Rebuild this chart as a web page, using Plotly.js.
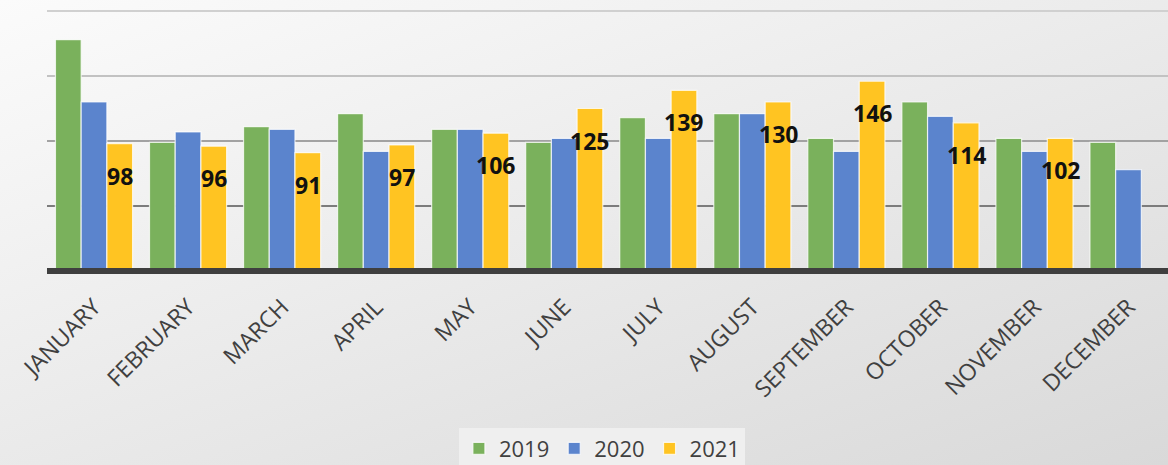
<!DOCTYPE html>
<html>
<head>
<meta charset="utf-8">
<script src="https://cdn.plot.ly/plotly-3.0.1.min.js"></script>
<style>
  html, body { margin: 0; padding: 0; }
  body {
    width: 1168px; height: 465px; overflow: hidden;
    background: linear-gradient(160deg, #fbfbfb 0%, #ececec 45%, #d9d9d9 100%);
  }
  #chart { width: 1168px; height: 465px; }
</style>
</head>
<body>
<div id="chart"></div>
<script>
// ---- data ----
const months = ["JANUARY", "FEBRUARY", "MARCH", "APRIL", "MAY", "JUNE",
                "JULY", "AUGUST", "SEPTEMBER", "OCTOBER", "NOVEMBER", "DECEMBER"];
const values2019 = [178, 99, 111, 121, 109, 99, 118, 121, 102, 130, 102, 99];
const values2020 = [130, 107, 109, 92, 109, 102, 102, 121, 92, 119, 92, 78];
const values2021 = [98, 96, 91, 97, 106, 125, 139, 130, 146, 114, 102, null];
const seriesNames = ["2019", "2020", "2021"];
const gridValues = [50, 100, 150, 200];

// ---- layout constants ----
const W = 1168, H = 465;
const mL = 47, mR = 0, mT = 0, mB = 190;
const xRange = [-0.5, 11.42];
const yRange = [-3.1, 208.5];
const bargap = 0.18;

const colors = ["#7ab15c", "#5b84cd", "#ffc422"];
const gridColors = ["#7c7c7c", "#a2a2a2", "#c2c2c2", "#d0d0d0"];
const outline = { color: "rgba(255,255,255,0.75)", width: 1.2 };
const FONT = "Open Sans, Liberation Sans, sans-serif";

const traces = [values2019, values2020, values2021].map((vals, i) => ({
  type: "bar",
  name: seriesNames[i],
  x: months,
  y: vals,
  marker: { color: colors[i], line: outline },
  hoverinfo: "x+y+name"
}));

// data labels for 2021 series (placed on the third bar of each group)
const plotW = W - mL - mR;
const catPx = plotW / (xRange[1] - xRange[0]);
const barPx = catPx * (1 - bargap) / 3;
const annotations = [];
values2021.forEach((v, i) => {
  if (v === null) return;
  annotations.push({
    x: months[i], y: v, xref: "x", yref: "y",
    text: String(v), showarrow: false,
    xshift: barPx, yshift: -32,
    font: { family: FONT, size: 23, color: "#111111", weight: "bold" },
    xanchor: "center", yanchor: "middle"
  });
});

// horizontal gridlines, each with its own shade
const shapes = gridValues.map((g, i) => ({
  type: "line", xref: "paper", yref: "y",
  x0: 0, x1: 1, y0: g, y1: g,
  line: { color: gridColors[i], width: 2 },
  layer: "below"
}));
// thick baseline
shapes.push({
  type: "line", xref: "paper", yref: "y",
  x0: 0, x1: 1, y0: 0, y1: 0,
  line: { color: "#3f3f3f", width: 6 },
  layer: "above"
});

const layout = {
  width: W, height: H,
  margin: { l: mL, r: mR, t: mT, b: mB, autoexpand: false },
  paper_bgcolor: "rgba(0,0,0,0)",
  plot_bgcolor: "rgba(0,0,0,0)",
  barmode: "group",
  bargap: bargap,
  bargroupgap: 0,
  showlegend: true,
  legend: {
    orientation: "h",
    x: 0.495, xanchor: "center",
    y: -0.555, yanchor: "top",
    bgcolor: "#efefef",
    font: { family: FONT, size: 22, color: "#404040" },
    itemwidth: 30,
    traceorder: "normal"
  },
  xaxis: {
    type: "category",
    range: xRange,
    tickangle: -45,
    showgrid: false,
    zeroline: false,
    showline: false,
    ticks: "",
    ticklabelstandoff: 13,
    tickfont: { family: FONT, size: 23, color: "#404040" },
    fixedrange: true
  },
  yaxis: {
    range: yRange,
    tickvals: gridValues,
    showticklabels: false,
    showgrid: false,
    zeroline: false,
    showline: false,
    ticks: "",
    fixedrange: true
  },
  shapes: shapes,
  annotations: annotations,
  font: { family: FONT }
};

Plotly.newPlot("chart", traces, layout, { displayModeBar: false, staticPlot: true });
</script>
</body>
</html>
